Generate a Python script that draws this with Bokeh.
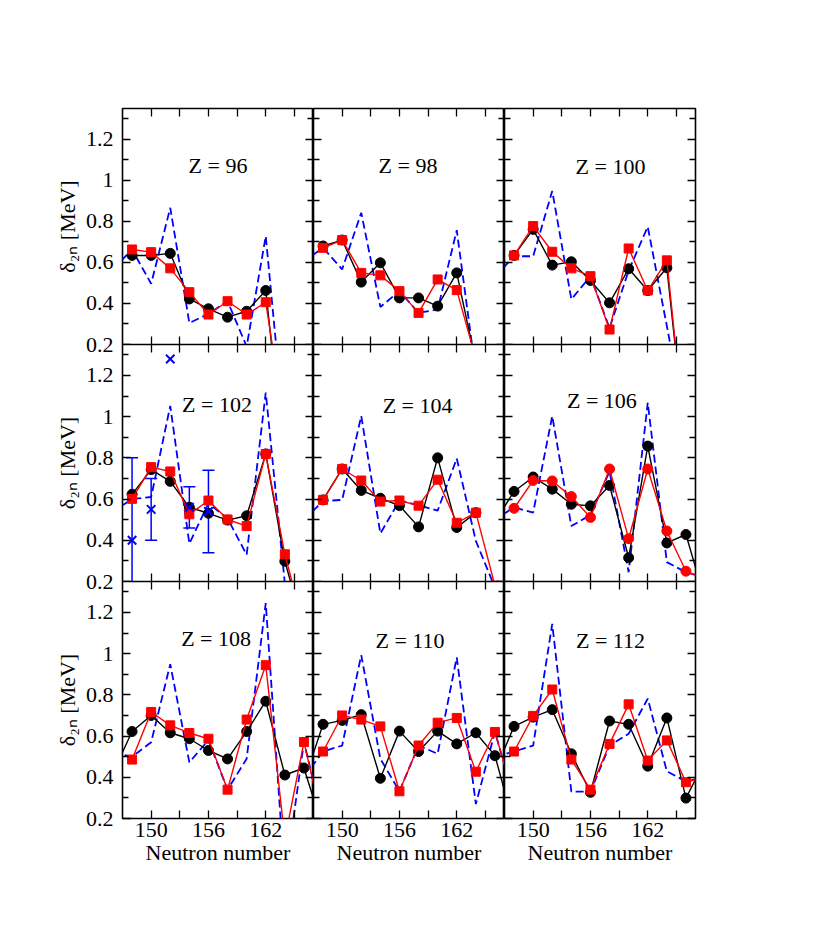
import math
from bokeh.plotting import figure
from bokeh.models import (LinearAxis, FixedTicker, CustomJSTickFormatter, ColumnDataSource,
                          Whisker, TeeHead, Range1d, Label)
from bokeh.layouts import column, row
from bokeh.embed import file_html
from bokeh.resources import INLINE

nan = float("nan")

# ---------------- data ----------------
N = [146, 148, 150, 152, 154, 156, 158, 160, 162, 164, 166, 168]
Z_values = [96, 98, 100, 102, 104, 106, 108, 110, 112]

black_96 = [nan, 0.634, 0.634, 0.644, 0.422, 0.374, 0.333, 0.362, 0.463, -0.40, nan, nan]
red_96 = [nan, 0.663, 0.650, 0.571, 0.455, 0.346, 0.411, 0.346, 0.406, -0.20, nan, nan]
blue_96 = [0.567, 0.663, 0.496, 0.866, 0.305, 0.350, 0.411, 0.190, 0.728, -0.25, nan, nan]

black_98 = [nan, 0.680, 0.709, 0.504, 0.598, 0.427, 0.427, 0.387, 0.549, 0.11, nan, nan]
red_98 = [nan, 0.671, 0.709, 0.549, 0.537, 0.460, 0.354, 0.517, 0.465, 0.13, nan, nan]
blue_98 = [0.607, 0.671, 0.566, 0.842, 0.383, 0.460, 0.354, 0.371, 0.757, 0.06, nan, nan]

black_100 = [nan, 0.634, 0.761, 0.587, 0.603, 0.512, 0.403, 0.569, 0.463, 0.574, -0.30, nan]
red_100 = [nan, 0.634, 0.777, 0.652, 0.571, 0.533, 0.273, 0.668, 0.463, 0.610, -0.30, nan]
blue_100 = [0.530, 0.630, 0.630, 0.948, 0.420, 0.533, 0.280, 0.560, 0.774, 0.290, -0.20, nan]

black_102 = [nan, 0.623, 0.743, 0.686, 0.560, 0.531, 0.498, 0.519, 0.819, 0.298, -0.03, nan]
red_102 = [nan, 0.601, 0.755, 0.734, 0.526, 0.593, 0.501, 0.469, 0.819, 0.332, -0.02, nan]
blue_102 = [0.540, 0.600, 0.610, 1.052, 0.384, 0.579, 0.506, 0.330, 1.117, 0.190, -0.10, nan]

black_104 = [nan, 0.596, 0.746, 0.642, 0.604, 0.568, 0.465, 0.800, 0.462, 0.534, nan, nan]
red_104 = [nan, 0.596, 0.746, 0.690, 0.588, 0.593, 0.568, 0.694, 0.485, 0.534, 0.18, nan]
blue_104 = [0.500, 0.590, 0.596, 1.003, 0.433, 0.593, 0.570, 0.544, 0.797, 0.397, 0.17, nan]

black_106 = [0.49, 0.637, 0.707, 0.648, 0.575, 0.567, 0.666, 0.315, 0.857, 0.387, 0.428, 0.11]
red_106 = [nan, 0.555, 0.690, 0.688, 0.612, 0.511, 0.746, 0.408, 0.746, 0.445, 0.250, 0.21]
blue_106 = [0.500, 0.560, 0.534, 1.003, 0.469, 0.523, 0.734, 0.245, 1.068, 0.294, 0.245, 0.22]

black_108 = [0.42, 0.622, 0.700, 0.616, 0.587, 0.530, 0.489, 0.622, 0.769, 0.411, 0.445, 0.15]
red_108 = [nan, 0.486, 0.717, 0.652, 0.615, 0.587, 0.340, 0.680, 0.944, 0.10, 0.571, 0.17]
blue_108 = [0.520, 0.500, 0.570, 0.949, 0.473, 0.580, 0.340, 0.490, 1.245, -0.10, 0.571, 0.19]

black_110 = [0.38, 0.657, 0.676, 0.704, 0.395, 0.624, 0.525, 0.624, 0.562, 0.616, 0.505, 0.165]
red_110 = [nan, 0.525, 0.700, 0.680, 0.647, 0.332, 0.554, 0.665, 0.688, 0.427, 0.620, 0.30]
blue_110 = [0.400, 0.525, 0.554, 0.993, 0.490, 0.332, 0.554, 0.514, 0.982, 0.270, 0.620, 0.30]

black_112 = [0.43, 0.647, 0.692, 0.728, 0.514, 0.327, 0.673, 0.657, 0.454, 0.688, 0.299, 0.48]
red_112 = [nan, 0.525, 0.698, 0.826, 0.486, 0.340, 0.562, 0.754, 0.481, 0.579, 0.376, 0.40]
blue_112 = [0.500, 0.525, 0.554, 1.144, 0.330, 0.330, 0.554, 0.611, 0.782, 0.429, 0.380, 0.40]

# experimental values (Z = 102)
exp_Z = 102
exp_N = [148, 150, 152, 154, 156]
exp_val = [0.40, 0.55, 1.28, 0.56, 0.54]
exp_err = [0.40, 0.15, 0.0, 0.10, 0.20]

# ticks
x_major = [150, 156, 162]
x_minor = [153, 159, 165]
y_major = [0.2, 0.4, 0.6, 0.8, 1.0, 1.2]
y_minor = [0.3, 0.5, 0.7, 0.9, 1.1, 1.3]

series = {
    96: (black_96, red_96, blue_96), 98: (black_98, red_98, blue_98),
    100: (black_100, red_100, blue_100), 102: (black_102, red_102, blue_102),
    104: (black_104, red_104, blue_104), 106: (black_106, red_106, blue_106),
    108: (black_108, red_108, blue_108), 110: (black_110, red_110, blue_110),
    112: (black_112, red_112, blue_112),
}

# ---------------- style / layout ----------------
FONT = "Times"
FS = "22px"
FW = 191
FH = [236, 237, 237]
L, R, T, B, OB = 122, 12, 108, 64, 14
X_RANGE = (147, 167)
Y_RANGE = (0.2, 1.35)
label_pos = {96: (157.0, 1.07), 98: (156.9, 1.07), 100: (158.1, 1.065),
             102: (156.9, 1.06), 104: (157.9, 1.055), 106: (157.2, 1.077),
             108: (156.8, 1.075), 110: (157.1, 1.065), 112: (158.1, 1.065)}
red_marker = {106: "circle"}


def tick_only(ticks, length):
    return LinearAxis(ticker=FixedTicker(ticks=[], minor_ticks=list(ticks)),
                      axis_line_color=None, major_tick_in=0, major_tick_out=0,
                      minor_tick_in=length, minor_tick_out=0, minor_tick_line_width=1.3,
                      minor_tick_line_color="black", major_label_standoff=0)


def make_panel(r, c, Z):
    left = L if c == 0 else 0
    right = R if c == 2 else 0
    top = T if r == 0 else 0
    bottom = B if r == 2 else OB
    p = figure(width=left + FW + right, height=top + FH[r] + bottom,
               x_range=Range1d(*X_RANGE), y_range=Range1d(*Y_RANGE),
               x_axis_type=None, y_axis_type=None,
               output_backend="svg", toolbar_location=None,
               min_border_left=left, min_border_right=right,
               min_border_top=top, min_border_bottom=bottom)
    p.border_fill_alpha = 0.0
    p.background_fill_color = "white"
    p.outline_line_color = "black"
    p.outline_line_width = 1.6

    # left axis
    if c == 0:
        ya = LinearAxis(ticker=FixedTicker(ticks=y_major, minor_ticks=y_minor),
                        formatter=CustomJSTickFormatter(code="return String(Math.round(tick*10)/10)"),
                        axis_line_color=None, major_tick_in=8, major_tick_out=0,
                        minor_tick_in=6, minor_tick_out=0,
                        major_tick_line_width=1.3, minor_tick_line_width=1.3,
                        major_label_standoff=9,
                        major_label_text_font=FONT, major_label_text_font_size=FS,
                        major_label_text_color="black",
                        axis_label="\u03b4\u2082\u2099 [MeV]", axis_label_standoff=3,
                        axis_label_text_font=FONT, axis_label_text_font_size=FS,
                        axis_label_text_font_style="normal", axis_label_text_color="black")
        p.add_layout(ya, "left")
    else:
        p.add_layout(tick_only(y_major, 8), "left")
        p.add_layout(tick_only(y_minor, 6), "left")
    p.add_layout(tick_only(y_major, 8), "right")
    p.add_layout(tick_only(y_minor, 6), "right")

    # bottom axis
    if r == 2:
        xa = LinearAxis(ticker=FixedTicker(ticks=x_major, minor_ticks=x_minor),
                        axis_line_color=None, major_tick_in=8, major_tick_out=0,
                        minor_tick_in=8, minor_tick_out=0,
                        major_tick_line_width=1.3, minor_tick_line_width=1.3,
                        major_label_standoff=4,
                        major_label_text_font=FONT, major_label_text_font_size=FS,
                        major_label_text_color="black",
                        axis_label="Neutron number", axis_label_standoff=0,
                        axis_label_text_font=FONT, axis_label_text_font_size=FS,
                        axis_label_text_font_style="normal", axis_label_text_color="black")
        p.add_layout(xa, "below")
    else:
        p.add_layout(tick_only(x_major + x_minor, 8), "below")
    p.add_layout(tick_only(x_major + x_minor, 8), "above")

    black, red, blue = series[Z]
    src = ColumnDataSource(dict(N=N, black=black, red=red, blue=blue))

    p.line("N", "blue", source=src, color="blue", line_width=1.8, line_dash="8 4")
    p.line("N", "black", source=src, color="black", line_width=1.4)
    p.scatter("N", "black", source=src, marker="circle", size=10,
              fill_color="black", line_color="black")
    p.line("N", "red", source=src, color="red", line_width=1.4)
    mk = red_marker.get(Z, "square")
    p.scatter("N", "red", source=src, marker=mk, size=10 if mk == "circle" else 9,
              fill_color="red", line_color="red")

    if Z == exp_Z:
        e_src = ColumnDataSource(dict(
            N=[n for n, e in zip(exp_N, exp_err) if e > 0],
            lower=[v - e for v, e in zip(exp_val, exp_err) if e > 0],
            upper=[v + e for v, e in zip(exp_val, exp_err) if e > 0]))
        w = Whisker(source=e_src, base="N", lower="lower", upper="upper",
                    line_color="blue", line_width=1.5,
                    upper_head=TeeHead(size=12, line_color="blue", line_width=1.5),
                    lower_head=TeeHead(size=12, line_color="blue", line_width=1.5))
        p.add_layout(w)
        x_src = ColumnDataSource(dict(N=exp_N, val=exp_val))
        p.scatter("N", "val", source=x_src, marker="x", size=12,
                  line_color="blue", line_width=2)

    lx, ly = label_pos[Z]
    p.add_layout(Label(x=lx, y=ly, text=f"Z = {Z}", text_align="center",
                       text_baseline="middle", text_font=FONT, text_font_size=FS,
                       text_color="black"))
    return p


rows = []
for r in range(3):
    panels = [make_panel(r, c, Z_values[3 * r + c]) for c in range(3)]
    if r == 0:
        rows.append(row(*panels))
    else:
        rows.append(row(*panels, margin=(-OB, 0, 0, 0)))

layout = column(*rows)

open("out.html", "w").write(file_html(layout, INLINE))
